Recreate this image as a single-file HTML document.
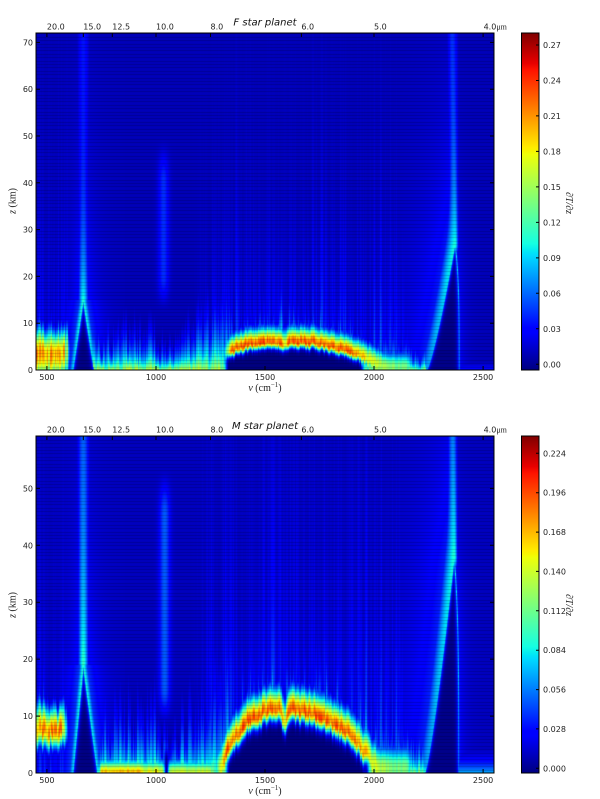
<!DOCTYPE html>
<html><head><meta charset="utf-8">
<style>
html,body{margin:0;padding:0;background:#fff;}
body{width:600px;height:799px;position:relative;overflow:hidden;}
.bg{position:absolute;background:#0b10b6;}
canvas{position:absolute;}
svg{position:absolute;left:0;top:0;}
</style></head><body>
<div class="bg" style="left:36px;top:33px;width:458px;height:337px"></div>
<div class="bg" style="left:36px;top:436px;width:458px;height:337px"></div>
<canvas id="c1" width="458" height="337" style="left:36px;top:33px"></canvas>
<canvas id="c2" width="458" height="337" style="left:36px;top:436px"></canvas>
<svg width="600" height="799" xmlns="http://www.w3.org/2000/svg">
<defs>
<linearGradient id="jet" x1="0" y1="1" x2="0" y2="0">
<stop offset="0" stop-color="rgb(0,0,128)"/>
<stop offset="0.11" stop-color="rgb(0,0,255)"/>
<stop offset="0.125" stop-color="rgb(0,0,255)"/>
<stop offset="0.34" stop-color="rgb(0,219,255)"/>
<stop offset="0.35" stop-color="rgb(0,230,247)"/>
<stop offset="0.375" stop-color="rgb(21,255,226)"/>
<stop offset="0.64" stop-color="rgb(239,255,8)"/>
<stop offset="0.65" stop-color="rgb(247,245,0)"/>
<stop offset="0.66" stop-color="rgb(255,236,0)"/>
<stop offset="0.89" stop-color="rgb(255,19,0)"/>
<stop offset="0.91" stop-color="rgb(232,0,0)"/>
<stop offset="1" stop-color="rgb(128,0,0)"/>
</linearGradient>
</defs>
<g fill="none" stroke="#000" stroke-width="1">
<rect x="36" y="33" width="458" height="337"/>
<rect x="36" y="436" width="458" height="337"/>
<rect x="521.5" y="33" width="17.5" height="337" fill="url(#jet)"/>
<rect x="521.5" y="436" width="17.5" height="337" fill="url(#jet)"/>
</g>
<g stroke="#000" stroke-width="1">
<path d="M36 370h4M36 323.2h4M36 276.4h4M36 229.6h4M36 182.8h4M36 136h4M36 89.2h4M36 42.4h4"/>
<path d="M494 323.2h-4M494 276.4h-4M494 229.6h-4M494 182.8h-4M494 136h-4M494 89.2h-4M494 42.4h-4"/>
<path d="M46.9 370v-4M156 370v-4M265 370v-4M374 370v-4M483.1 370v-4"/>
<path d="M46.9 33v4M83.3 33v4M112.3 33v4M156 33v4M210.5 33v4M301.4 33v4M374 33v4M483.1 33v4"/>
<path d="M36 716.1h4M36 659.1h4M36 602.2h4M36 545.3h4M36 488.4h4"/>
<path d="M494 716.1h-4M494 659.1h-4M494 602.2h-4M494 545.3h-4M494 488.4h-4"/>
<path d="M46.9 773v-4M156 773v-4M265 773v-4M374 773v-4M483.1 773v-4"/>
<path d="M46.9 436v4M83.3 436v4M112.3 436v4M156 436v4M210.5 436v4M301.4 436v4M374 436v4M483.1 436v4"/>
<path d="M536 364.3h3M536 328.8h3M536 293.3h3M536 257.9h3M536 222.4h3M536 186.9h3M536 151.4h3M536 115.9h3M536 80.5h3M536 45h3"/>
<path d="M536 768.3h3M536 728.9h3M536 689.6h3M536 650.2h3M536 610.8h3M536 571.4h3M536 532.1h3M536 492.7h3M536 453.3h3"/>
</g>
<g font-family="DejaVu Sans, Liberation Sans, sans-serif" font-size="8" fill="#222">
<g text-anchor="end">
<text x="33" y="373">0</text><text x="33" y="326.2">10</text><text x="33" y="279.4">20</text><text x="33" y="232.6">30</text>
<text x="33" y="185.8">40</text><text x="33" y="139">50</text><text x="33" y="92.2">60</text><text x="33" y="45.4">70</text>
<text x="33" y="776">0</text><text x="33" y="719.1">10</text><text x="33" y="662.1">20</text><text x="33" y="605.2">30</text>
<text x="33" y="548.3">40</text><text x="33" y="491.4">50</text>
</g>
<g text-anchor="middle">
<text x="46.9" y="380">500</text><text x="156" y="380">1000</text><text x="265" y="380">1500</text><text x="374" y="380">2000</text><text x="483.1" y="380">2500</text>
<text x="46.9" y="783">500</text><text x="156" y="783">1000</text><text x="265" y="783">1500</text><text x="374" y="783">2000</text><text x="483.1" y="783">2500</text>
</g>
<g>
<text x="46.9" y="29.5">20.0</text><text x="83.3" y="29.5">15.0</text><text x="112.3" y="29.5">12.5</text><text x="156" y="29.5">10.0</text>
<text x="210.5" y="29.5">8.0</text><text x="301.4" y="29.5">6.0</text><text x="374" y="29.5">5.0</text><text x="483.6" y="29.5">4.0<tspan font-family="Liberation Serif, DejaVu Serif, serif">μm</tspan></text>
<text x="46.9" y="432.5">20.0</text><text x="83.3" y="432.5">15.0</text><text x="112.3" y="432.5">12.5</text><text x="156" y="432.5">10.0</text>
<text x="210.5" y="432.5">8.0</text><text x="301.4" y="432.5">6.0</text><text x="374" y="432.5">5.0</text><text x="483.6" y="432.5">4.0<tspan font-family="Liberation Serif, DejaVu Serif, serif">μm</tspan></text>
</g>
<g>
<text x="543" y="367.3">0.00</text><text x="543" y="331.8">0.03</text><text x="543" y="296.3">0.06</text><text x="543" y="260.9">0.09</text>
<text x="543" y="225.4">0.12</text><text x="543" y="189.9">0.15</text><text x="543" y="154.4">0.18</text><text x="543" y="118.9">0.21</text>
<text x="543" y="83.5">0.24</text><text x="543" y="48">0.27</text>
<text x="543" y="771.3">0.000</text><text x="543" y="731.9">0.028</text><text x="543" y="692.6">0.056</text><text x="543" y="653.2">0.084</text>
<text x="543" y="613.8">0.112</text><text x="543" y="574.4">0.140</text><text x="543" y="535.1">0.168</text><text x="543" y="495.7">0.196</text>
<text x="543" y="456.3">0.224</text>
</g>
</g>
<g font-family="DejaVu Sans, Liberation Sans, sans-serif" font-size="10" font-style="italic" fill="#111" text-anchor="middle">
<text x="265" y="25.5">F star planet</text>
<text x="265" y="429">M star planet</text>
</g>
<g font-family="Liberation Serif, DejaVu Serif, serif" font-size="10" fill="#222">
<text x="265" y="391" text-anchor="middle"><tspan font-style="italic">ν</tspan> (cm<tspan dy="-4" font-size="7">−1</tspan><tspan dy="4">)</tspan></text>
<text x="265" y="794" text-anchor="middle"><tspan font-style="italic">ν</tspan> (cm<tspan dy="-4" font-size="7">−1</tspan><tspan dy="4">)</tspan></text>
<text transform="translate(15.5,201) rotate(-90)" text-anchor="middle"><tspan font-style="italic">z</tspan> (km)</text>
<text transform="translate(15.5,605) rotate(-90)" text-anchor="middle"><tspan font-style="italic">z</tspan> (km)</text>
<text transform="translate(566,203) rotate(90)" text-anchor="middle" font-style="italic">∂T/∂z</text>
<text transform="translate(566,605) rotate(90)" text-anchor="middle" font-style="italic">∂T/∂z</text>
</g>
</svg>
<script>
(function(){
function mulberry32(a){return function(){a|=0;a=a+0x6D2B79F5|0;var t=Math.imul(a^a>>>15,1|a);t=t+Math.imul(t^t>>>7,61|t)^t;return((t^t>>>14)>>>0)/4294967296;};}
function smooth(a,b,x){var t=(x-a)/(b-a);t=t<0?0:t>1?1:t;return t*t*(3-2*t);}
function gauss(x,s){var q=x/s;return Math.exp(-q*q);}
function lp(p,t){for(var i=0;i<p.length-1;i++){if(t<=p[i+1][0]){return p[i][1]+(p[i+1][1]-p[i][1])*(t-p[i][0])/(p[i+1][0]-p[i][0]);}}return p[p.length-1][1];}
var JR=[[0,0],[0.35,0],[0.66,1],[0.89,1],[1,0.5]],JG=[[0,0],[0.125,0],[0.375,1],[0.64,1],[0.91,0],[1,0]],JB=[[0,0.5],[0.11,1],[0.34,1],[0.65,0],[1,0]];
function jet(t){t=t<0?0:t>1?1:t;return[lp(JR,t)*255,lp(JG,t)*255,lp(JB,t)*255];}

function field(P,nu,z,r1,r2,r3){
  var t=P.base;
  // A: low-wavenumber band
  var mA=1-smooth(555+30*r1,612+18*r2,nu);
  if(mA>0){
    var A=P.A;
    var zc=A.zc+(r2-0.5)*A.jit;
    var amp=A.amp*(0.76+0.32*r1);
    var wu=A.wu*(0.75+0.5*r3);
    var core=z<zc?amp*gauss(z-zc,A.wl):amp*gauss(z-zc,wu);
    var tail=z>zc?(0.2+0.25*r1)*Math.exp(-(z-zc)/(1.5+A.tailH*r3*r3)):0;
    var tall=(0.03+0.14*r2*r2)*Math.exp(-z/(8+22*r3));
    t=Math.max(t,mA*Math.max(core,tail),P.base+tall*mA);
  }
  // V: 15 micron CO2
  var V=P.V;
  if(nu>520&&nu<860){
    if(z<V.zA){
      var f=z/V.zA;
      var le=V.nuL+(V.nuA-V.nuL)*f,re=V.nuR-(V.nuR-V.nuA)*f;
      if(nu>le&&nu<re){
        var dIn=Math.min(nu-le,re-nu);
        return 0.005+(0.32+0.08*f)*Math.exp(-dIn/6);
      }
      var d=nu<=le?le-nu:nu-re;
      var a=0.34+0.06*f;
      t=Math.max(t,a*Math.exp(-Math.pow(d/20,1.5)),P.base+0.17*Math.exp(-d/50));
    }else{
      var dz=z-V.zA;
      var sw=22+dz*0.15;
      var a2=V.colA+V.colB*Math.exp(-dz/V.colL);
      var dv=Math.abs(nu-V.nuA);
      t=Math.max(t,a2*gauss(dv,sw),P.base+0.12*Math.exp(-dv/50)*Math.exp(-dz/25));
    }
  }
  // ozone column
  var O=P.O;
  var w=gauss(nu-O.nu,24);
  if(w>0.005){
    var zz=smooth(O.z1,O.z2,z)*(1-smooth(O.z3,O.z4,z));
    t=Math.max(t,P.base+O.a*w*zz);
  }
  // ground spikes
  var D=P.D,H=0,g0=0;
  if(nu>712&&nu<1340){
    H=nu<1000?D.h1:(nu<1100?D.h2:D.h2+(nu-1100)/240*D.h3);
    g0=D.g0;
  }else if(nu>1930&&nu<2240){
    H=D.h4-(nu-1930)/310*3;g0=0.52;
  }
  if(H>0){
    var h=H*(0.3+1.0*r1);
    t=Math.max(t,g0*(0.7+0.45*r2)*Math.exp(-z/h));
  }
  if(P.layer&&nu>728&&nu<1262){
    var Lg=nu<930?0.74:(nu<1030?0.66:0.62);
    Lg*=smooth(728,752,nu)*(1-smooth(1250,1262,nu));
    t=Math.max(t,Lg*(0.88+0.16*r2)*gauss(z,2.2));
  }
  if(P.layer){
    var wg=gauss(nu-1048,10)*(1-smooth(2.5,5,z));
    t=t*(1-wg)+0.02*wg;
  }
  // tall faint spikes
  var env=smooth(1150,1300,nu)*(1-smooth(2080,2260,nu));
  if(env>0){
    t=Math.max(t,P.base+env*(0.02+P.tallA*Math.pow(r3,1.5))*Math.exp(-z/(P.tallL*(0.3+r2))));
  }
  // E: water band arc
  if(nu>1240&&nu<2220){
    var E=P.E,zc2;
    if(nu<E.c) zc2=E.peak-E.left*Math.pow((E.c-nu)/E.leftW,E.leftPow);
    else zc2=E.peak-E.right*Math.pow((nu-E.c)/E.rightW,2);
    zc2-=E.notch*gauss(nu-1590,13);
    zc2+=(r2-0.5)*E.jit;
    if(zc2<E.zmin) zc2=E.zmin;
    var amp2=E.amp*smooth(E.a0,E.a1,nu)*(1-0.4*smooth(1850,2120,nu))*(1-smooth(2140,2215,nu));
    amp2*=(1-0.22*gauss(nu-1590,12));
    amp2*=(0.84+0.2*r1);
    var wl=E.wl0+1.2*Math.max(0,3.2-zc2);
    var v;
    if(z<zc2) v=amp2*gauss(z-zc2,wl);
    else v=Math.max(amp2*gauss(z-zc2,E.wu),amp2*(0.15+0.5*r3)*Math.exp(-(z-zc2)/(1.5+E.tl*r1*r1)));
    var dw=smooth(E.d0,E.d0+30,nu)*(1-smooth(E.d1-30,E.d1,nu));
    if(z<zc2) t=dw*v+(1-dw)*Math.max(t,v);
    else t=Math.max(t,v);
  }
  // F: 4.3 micron CO2
  var F=P.F;
  if(nu>1950&&nu<2550){
    var a30=F.colA+F.colB;
    if(z<F.zA){
      var f2=z/F.zA;
      var le2=F.nuL0+(F.apex-F.nuL0)*Math.pow(f2,0.8);
      var re2=F.wall-(F.wall-F.apex)*Math.pow(f2,4);
      var blend=smooth(F.zA-4,F.zA,z);
      if(nu>le2&&nu<re2){
        var dIn2=Math.min(nu-le2,re2-nu);
        var vin=0.01+(0.25+0.12*f2)*Math.exp(-dIn2/6);
        return Math.max(vin, blend*a30*gauss(nu-F.apex,14));
      }
      if(nu<=le2){
        var d3=le2-nu;
        t=Math.max(t,(0.28+0.1*f2)*gauss(d3,45),P.base+0.14*Math.exp(-d3/110));
      }else{
        var d4=nu-re2;
        t=Math.max(t,0.33*Math.exp(-d4/5),P.base+0.06*Math.exp(-d4/30),blend*a30*gauss(nu-F.apex,14));
      }
    }else{
      var dz2=z-F.zA;
      var cen=F.apex-dz2*0.3;
      var a3=F.colA+F.colB*Math.exp(-dz2/F.colL);
      var dd2=nu-cen;
      var swL=24+21*Math.exp(-dz2/6), swR=14+dz2*0.3;
      t=Math.max(t,a3*gauss(dd2,dd2<0?swL:swR));
      var dec=Math.exp(-dz2/20);
      if(dd2<0) t=Math.max(t,P.base+0.14*Math.exp(dd2/110)*dec);
      else t=Math.max(t,P.base+0.06*Math.exp(-dd2/30)*dec);
    }
  }
  if(nu>F.wall) t=Math.max(t,P.rg*Math.exp(-z/P.rgL));
  return t;
}

var PT={zmax:72,base:0.05,
 A:{zc:3.5,jit:1.4,wl:6,wu:4.8,amp:0.78,tailH:9},
 V:{nuA:667,zA:15,nuL:620,nuR:716,colA:0.14,colB:0.24,colL:12},
 O:{nu:1035,z1:12,z2:20,z3:40,z4:50,a:0.12},
 D:{h1:5,h2:3.5,h3:7,h4:6,g0:0.6},layer:false,
 tallA:0.25,tallL:18,
 E:{c:1620,peak:6,left:2.5,leftW:300,leftPow:3,right:4.2,rightW:380,notch:1.0,jit:1.0,zmin:0.6,amp:0.86,a0:1280,a1:1360,wl0:1.2,wu:3.0,tl:9,d0:1305,d1:1965},
 F:{zA:27,apex:2372,nuL0:2243,wall:2390,colA:0.16,colB:0.22,colL:15},
 rg:0.14,rgL:1.8};
var PB={zmax:59.2,base:0.055,
 A:{zc:7.5,jit:1.8,wl:2.8,wu:4.2,amp:0.8,tailH:10},
 V:{nuA:667,zA:19,nuL:620,nuR:732,colA:0.19,colB:0.22,colL:20},
 O:{nu:1040,z1:8,z2:15,z3:45,z4:54,a:0.16},
 D:{h1:7,h2:5,h3:8,h4:7,g0:0.5},layer:true,
 tallA:0.26,tallL:25,
 E:{c:1640,peak:10.8,left:7,leftW:310,leftPow:4,right:7.8,rightW:330,notch:2.0,jit:1.6,zmin:0.8,amp:0.86,a0:1230,a1:1330,wl0:1.8,wu:3.6,tl:12,d0:1310,d1:1990},
 F:{zA:38,apex:2368,nuL0:2234,wall:2388,colA:0.19,colB:0.2,colL:18},
 rg:0.3,rgL:2.5};

function render(id,P,seed){
  var c=document.getElementById(id);if(!c||!c.getContext)return;
  var ctx=c.getContext('2d');var W=458,Hh=337;
  var img=ctx.createImageData(W,Hh);var dd=img.data;
  var rnd=mulberry32(seed);
  var raw1=[],raw2=[],raw3=[],i;
  for(i=0;i<W;i++){raw1.push(rnd());raw2.push(rnd());raw3.push(rnd());}
  function sm(a,k){var l=a[Math.max(0,k-1)],r=a[Math.min(W-1,k+1)];return 0.7*a[k]+0.15*(l+r);}
  for(var px=0;px<W;px++){
    var nu=450+(px+0.5)*2100/W;
    var r1=sm(raw1,px),r2=sm(raw2,px),r3=sm(raw3,px);
    for(var py=0;py<Hh;py++){
      var z=P.zmax*(1-(py+0.5)/Hh);
      var t=field(P,nu,z,r1,r2,r3);
      var col=jet(t);
      var k=((py%3.4)<1)?0.8:1;
      var o=(py*W+px)*4;
      dd[o]=col[0]*k;dd[o+1]=col[1]*k;dd[o+2]=col[2]*k;dd[o+3]=255;
    }
  }
  ctx.putImageData(img,0,0);
}
render('c1',PT,12345);
render('c2',PB,67890);
})();
</script>
</body></html>
